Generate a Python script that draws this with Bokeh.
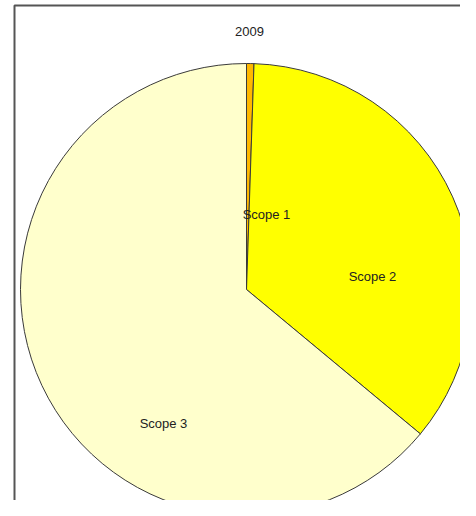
import math
from bokeh.plotting import figure
from bokeh.models import Range1d, ColumnDataSource
from bokeh.core.properties import value
from bokeh.embed import file_html
from bokeh.resources import INLINE

title_text = "2009"
categories = ["Scope 1", "Scope 2", "Scope 3"]
shares = [0.53, 35.5, 63.97]
colors = ["#FFB800", "#FFFF00", "#FFFFCC"]

# layout (pixel-like data units, pie centred at 0,0)
R = 226
label_pos = {"Scope 1": (20, 75), "Scope 2": (126, 13), "Scope 3": (-83, -134)}

total = sum(shares)
starts, ends = [], []
cum = 0.0
for s in shares:
    starts.append(math.pi / 2 - 2 * math.pi * cum / total)
    cum += s
    ends.append(math.pi / 2 - 2 * math.pi * cum / total)

src = ColumnDataSource(dict(cat=categories, start=starts, end=ends, color=colors))

p = figure(width=460, height=500, output_backend="svg", toolbar_location=None,
           x_range=Range1d(-246, 214), y_range=Range1d(-211, 289),
           min_border=0, min_border_left=0, min_border_right=0,
           min_border_top=0, min_border_bottom=0)
p.axis.visible = False
p.grid.visible = False
p.outline_line_color = None
p.background_fill_color = "white"

p.wedge(x=0, y=0, radius=R, start_angle="start", end_angle="end", direction="clock",
        fill_color="color", line_color="#3a3a3a", line_width=1, source=src)

lx = [label_pos[c][0] for c in categories]
ly = [label_pos[c][1] for c in categories]
p.text(x=lx, y=ly, text=categories, text_align="center", text_baseline="middle",
       text_font=value("Liberation Sans"), text_font_size="13px", text_color="#222222")

p.text(x=[3], y=[258], text=[title_text], text_align="center", text_baseline="middle",
       text_font=value("Liberation Sans"), text_font_size="13px", text_color="#222222")

# chart box (left and top edges; the rest lies beyond the window)
p.line(x=[-232, -232, 260], y=[-260, 284, 284], line_color="#555555", line_width=2)

open("out.html", "w").write(file_html(p, INLINE))
